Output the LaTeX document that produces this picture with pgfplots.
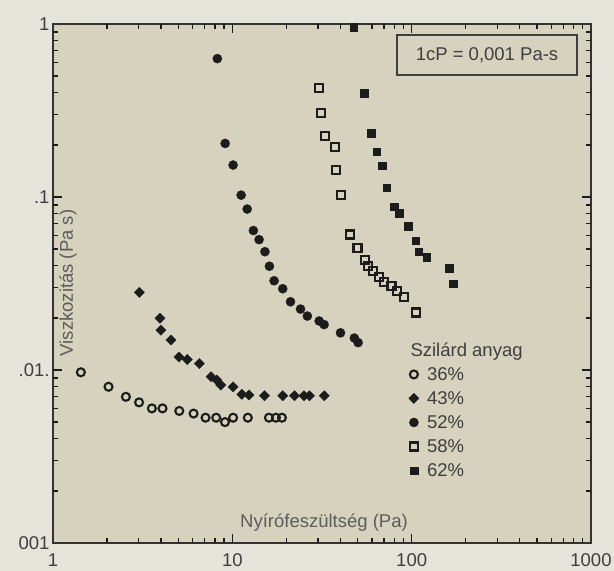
\documentclass[border=0pt]{standalone}
\usepackage{fontspec}
\setmainfont{Liberation Sans}
\usepackage{pgfplots}
\pgfplotsset{compat=1.18}
\definecolor{outerbg}{RGB}{229,228,219}
\definecolor{innerbg}{RGB}{214,210,190}
\definecolor{ink}{RGB}{28,28,28}
\definecolor{txt}{RGB}{62,62,62}
\definecolor{lbl}{RGB}{92,92,92}
\newcommand{\fs}{\fontsize{18.5}{22}\selectfont}
\begin{document}
\begin{tikzpicture}
\fill[outerbg] (-53pt,-28pt) rectangle (561pt,543pt);
\fill[innerbg] (0pt,0pt) rectangle (538pt,519pt);
\begin{axis}[
  scale only axis, width=538pt, height=519pt,
  at={(0pt,0pt)}, anchor=south west,
  xmode=log, ymode=log,
  xmin=1, xmax=1000, ymin=0.001, ymax=1,
  axis line style={line width=1.6pt, draw=ink!90},
  tickwidth=9pt, subtickwidth=5pt,
  major tick style={draw=ink, line width=1.3pt},
  minor tick style={draw=ink, line width=1.3pt},
  xtick={1,10,100,1000}, xticklabels={1,10,100,1000},
  ytick={0.001,0.01,0.1,1}, yticklabels={001,.01.,.1,1},
  ticklabel style={font=\fs, text=txt},
  xticklabel style={yshift=-7pt},
  clip mode=individual,
  legend style={at={(rel axis cs:0.661,0.341)}, anchor=north west, draw=none, fill=none,
    font=\fs, text=txt, row sep=7.6pt, inner sep=0pt, column sep=7pt,
    nodes={inner sep=1pt}},
  legend cell align=left,
  legend image code/.code={\draw[#1] plot coordinates {(0pt,0pt)};},
]
% 36%
\addplot[only marks, mark=o, mark size=4pt, mark options={line width=2.1pt, draw=ink}] coordinates {
(1.43,0.0097)(2.04,0.0080)(2.55,0.0070)(3.02,0.0065)(3.56,0.0060)(4.08,0.0060)
(5.06,0.0058)(6.08,0.0056)(7.09,0.0053)(8.13,0.0053)(9.10,0.0050)(10.1,0.0053)
(12.2,0.0053)(16.0,0.0053)(17.5,0.0053)(18.9,0.0053)};
\addlegendentry{36\%}
% 43%
\addplot[only marks, mark=square*, mark size=3.6pt, mark options={rotate=45, fill=ink, draw=ink, line width=0.4pt}] coordinates {
(3.03,0.0281)(3.95,0.0199)(4.00,0.0170)(4.55,0.0149)(5.04,0.0119)(5.61,0.0115)
(6.55,0.0109)(7.61,0.00915)(8.18,0.00876)(8.61,0.00819)(10.1,0.0080)(11.3,0.00724)
(12.4,0.00717)(15.1,0.0071)(19.1,0.0071)(22.2,0.0071)(25.1,0.0071)(26.9,0.0071)(32.6,0.0071)};
\addlegendentry{43\%}
% 52%
\addplot[only marks, mark=*, mark size=4.6pt, mark options={fill=ink, draw=ink, line width=0.3pt}] coordinates {
(8.25,0.631)(9.12,0.204)(10.1,0.153)(11.2,0.1025)(12.1,0.0852)(13.1,0.0640)
(14.1,0.0567)(15.2,0.0483)(16.1,0.0398)(17.1,0.0328)(19.1,0.0295)(21.1,0.0248)
(24.0,0.0225)(26.2,0.0205)(30.5,0.0192)(32.5,0.0183)(40.1,0.0164)(47.9,0.0153)(50.3,0.0144)};
\addlegendentry{52\%}
% 58%
\addplot[only marks, mark=square, mark size=4pt, mark options={line width=2.1pt, draw=ink}] coordinates {
(30.5,0.428)(31.2,0.305)(32.8,0.225)(37.2,0.194)(37.8,0.1425)(40.5,0.1025)
(45.1,0.0607)(49.9,0.0507)(54.9,0.0432)(57.1,0.0398)(61.0,0.0374)(65.8,0.0344)
(70.5,0.0323)(77.2,0.0305)(82.4,0.0286)(90.6,0.0264)(106,0.0215)};
\addlegendentry{58\%}
% 62%
\addplot[only marks, mark=square*, mark size=3.8pt, mark options={fill=ink, draw=ink, line width=0.4pt}] coordinates {
(47.4,0.962)(54.3,0.398)(59.4,0.234)(63.8,0.183)(68.7,0.152)(72.6,0.113)
(80.0,0.0878)(85.3,0.0804)(95.7,0.0679)(105.4,0.0559)(109.7,0.0483)(121.3,0.045)
(161.5,0.0389)(170.7,0.0315)};
\addlegendentry{62\%}
% annotations
\node[font=\fs, text=txt, anchor=base west] at (rel axis cs:0.6580,0.3593) {Szilárd anyag};
\node[font=\fs, text=lbl, anchor=center] at (rel axis cs:0.5037,0.0385) {Nyírófeszültség (Pa)};
\node[font=\fs, text=lbl, anchor=center, rotate=90] at (rel axis cs:0.0279,0.501) {Viszkozitás (Pa s)};
\node[font=\fs, text=txt, draw=ink!85, line width=1.5pt, fill=innerbg, minimum width=180pt, minimum height=40pt, inner sep=0pt] at (rel axis cs:0.8067,0.9403) {1cP = 0,001 Pa-s};
\end{axis}
% tick marks drawn after the axis, at the decade positions of the axis box
\foreach \d in {0,1,2}{
  \foreach \l in {0.30103,0.47712,0.60206,0.69897,0.77815,0.84510,0.90309,0.95424}{
    \draw[ink, line width=1.3pt] ({179.333*(\d+\l)*1pt},0pt) -- ++(0pt,5pt);
    \draw[ink, line width=1.3pt] ({179.333*(\d+\l)*1pt},519pt) -- ++(0pt,-5pt);
    \draw[ink, line width=1.3pt] (0pt,{173*(\d+\l)*1pt}) -- ++(5pt,0pt);
    \draw[ink, line width=1.3pt] (538pt,{173*(\d+\l)*1pt}) -- ++(-5pt,0pt);
  }
}
\foreach \d in {1,2}{
  \draw[ink, line width=1.3pt] ({179.333*\d*1pt},0pt) -- ++(0pt,9pt);
  \draw[ink, line width=1.3pt] ({179.333*\d*1pt},519pt) -- ++(0pt,-9pt);
  \draw[ink, line width=1.3pt] (0pt,{173*\d*1pt}) -- ++(9pt,0pt);
  \draw[ink, line width=1.3pt] (538pt,{173*\d*1pt}) -- ++(-9pt,0pt);
}
\pgfresetboundingbox
\path[use as bounding box] (-53pt,-28pt) rectangle (561pt,543pt);
\end{tikzpicture}
\end{document}
